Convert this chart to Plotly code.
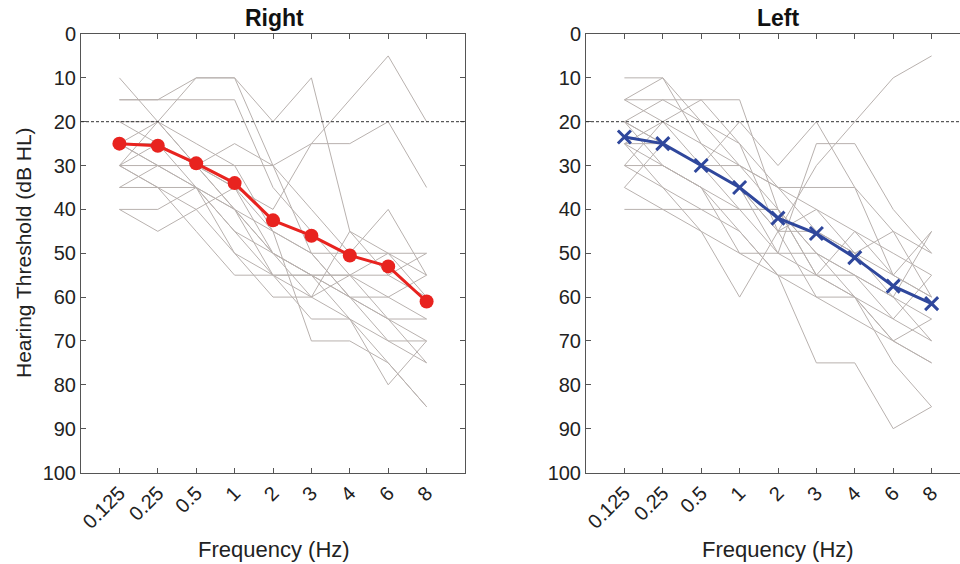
import plotly.graph_objects as go

freqs = ["0.125", "0.25", "0.5", "1", "2", "3", "4", "6", "8"]
yticks = [0, 10, 20, 30, 40, 50, 60, 70, 80, 90, 100]

right_mean = [25, 25.5, 29.5, 34, 42.5, 46, 50.5, 53, 61]
left_mean = [23.5, 25, 30, 35, 42, 45.5, 51, 57.5, 61.5]

right_subjects = [
    [10, 20, 30, 40, 50, 55, 65, 75, 85],
    [15, 15, 15, 15, 35, 45, 55, 65, 70],
    [15, 15, 10, 10, 30, 50, 60, 65, 75],
    [20, 20, 10, 10, 20, 10, 45, 50, 55],
    [25, 20, 30, 35, 40, 25, 15, 5, 20],
    [30, 20, 25, 30, 30, 25, 25, 20, 35],
    [30, 30, 35, 40, 55, 55, 60, 70, 70],
    [35, 30, 30, 35, 45, 50, 50, 50, 50],
    [40, 40, 35, 45, 55, 60, 55, 50, 60],
    [40, 45, 40, 35, 50, 60, 65, 70, 75],
    [30, 35, 45, 55, 55, 55, 55, 60, 55],
    [25, 25, 35, 50, 55, 65, 65, 80, 70],
    [30, 25, 30, 40, 45, 50, 60, 60, 65],
    [25, 30, 35, 45, 50, 55, 60, 65, 65],
    [35, 35, 35, 40, 50, 55, 55, 55, 50],
    [20, 25, 30, 25, 30, 40, 50, 40, 55],
    [25, 30, 30, 30, 45, 70, 70, 75, 85],
    [30, 35, 40, 50, 60, 60, 45, 55, 60],
]

left_subjects = [
    [10, 10, 20, 25, 35, 45, 50, 55, 60],
    [15, 15, 15, 15, 40, 55, 60, 65, 70],
    [15, 10, 25, 30, 40, 50, 55, 60, 45],
    [20, 25, 30, 20, 30, 20, 35, 55, 60],
    [25, 20, 15, 25, 45, 60, 60, 70, 75],
    [30, 30, 35, 40, 50, 55, 55, 65, 55],
    [35, 25, 30, 30, 35, 35, 35, 45, 50],
    [40, 40, 40, 40, 40, 50, 60, 75, 85],
    [20, 30, 35, 45, 55, 75, 75, 90, 85],
    [25, 35, 45, 60, 45, 30, 20, 10, 5],
    [30, 20, 25, 35, 45, 45, 50, 60, 65],
    [20, 25, 30, 35, 50, 25, 25, 40, 50],
    [25, 30, 35, 50, 50, 50, 55, 60, 70],
    [30, 35, 40, 45, 55, 60, 65, 70, 65],
    [20, 15, 20, 30, 35, 40, 45, 55, 45],
    [35, 40, 45, 50, 55, 55, 45, 50, 55],
    [15, 20, 30, 40, 40, 55, 60, 70, 75],
    [25, 25, 30, 35, 45, 40, 50, 45, 60],
]

FONT = "Arial, Liberation Sans, Helvetica, sans-serif"
GRAY = "#b8b1ae"
AXC = "#555555"

fig = go.Figure()
xi = list(range(len(freqs)))

for s in right_subjects:
    fig.add_trace(go.Scatter(x=xi, y=s, mode="lines", line=dict(color=GRAY, width=1),
                             xaxis="x", yaxis="y", showlegend=False, hoverinfo="skip"))
fig.add_trace(go.Scatter(x=xi, y=right_mean, mode="lines+markers",
                         line=dict(color="#e8231f", width=3),
                         marker=dict(symbol="circle", size=14, color="#e8231f"),
                         xaxis="x", yaxis="y", showlegend=False))

for s in left_subjects:
    fig.add_trace(go.Scatter(x=xi, y=s, mode="lines", line=dict(color=GRAY, width=1),
                             xaxis="x2", yaxis="y2", showlegend=False, hoverinfo="skip"))
fig.add_trace(go.Scatter(x=xi, y=left_mean, mode="lines+markers",
                         line=dict(color="#2f479c", width=3),
                         marker=dict(symbol="x-thin", size=13, color="#2f479c",
                                     line=dict(color="#2f479c", width=3)),
                         xaxis="x2", yaxis="y2", showlegend=False))

W, H = 960, 564
r_dom = [81 / W, 465 / W]
l_dom = [586 / W, 1.0]
y_dom = [1 - 472.5 / H, 1 - 34 / H]

common_x = dict(tickmode="array", tickvals=xi, ticktext=freqs, tickangle=-45,
                ticks="inside", ticklen=5, tickcolor=AXC, showline=True, linecolor=AXC,
                linewidth=1, showgrid=False, zeroline=False, automargin=False,
                tickfont=dict(family=FONT, size=20, color="#222222"))
common_y = dict(tickmode="array", tickvals=yticks, range=[100, 0], ticks="inside",
                ticklen=5, tickcolor=AXC, showline=True, linecolor=AXC, linewidth=1,
                showgrid=False, zeroline=False, automargin=False,
                tickfont=dict(family=FONT, size=20, color="#222222"))

fig.update_layout(
    width=W, height=H, margin=dict(l=0, r=0, t=0, b=0, autoexpand=False),
    plot_bgcolor="white", paper_bgcolor="white",
    xaxis=dict(domain=r_dom, range=[-1, 9], anchor="y", mirror="allticks", **common_x),
    yaxis=dict(domain=y_dom, anchor="x", mirror="allticks", **common_y),
    xaxis2=dict(domain=l_dom, range=[-1, (960 - 586) / 38.4 - 1], anchor="y2",
                mirror="allticks", **common_x),
    yaxis2=dict(domain=y_dom, anchor="x2", mirror=False, **common_y),
    showlegend=False,
)

for xr, yr in (("x", "y"), ("x2", "y2")):
    fig.add_shape(type="line", xref=f"{xr} domain", yref=yr, x0=0, x1=1, y0=20, y1=20,
                  line=dict(color="#333333", width=1, dash="3px,2px"))

ann = [
    dict(text="<b>Right</b>", x=274 / W, y=1 - 18 / H),
    dict(text="<b>Left</b>", x=778 / W, y=1 - 18 / H),
]
for a in ann:
    fig.add_annotation(xref="paper", yref="paper", showarrow=False, xanchor="center",
                       yanchor="middle", font=dict(family=FONT, size=23, color="#111111"), **a)
for cx in (274, 778):
    fig.add_annotation(text="Frequency (Hz)", xref="paper", yref="paper", x=cx / W,
                       y=1 - 549 / H, xanchor="center", yanchor="middle",
                       showarrow=False, font=dict(family=FONT, size=22, color="#222222"))
fig.add_annotation(text="Hearing Threshold (dB HL)", xref="paper", yref="paper", x=23 / W,
                   y=1 - 253 / H, textangle=-90, xanchor="center", yanchor="middle",
                   showarrow=False, font=dict(family=FONT, size=21, color="#222222"))

fig.write_html(
    "out.html",
    config={"displayModeBar": False},
    post_script="document.body.style.margin='0';document.body.style.overflow='hidden';",
)
